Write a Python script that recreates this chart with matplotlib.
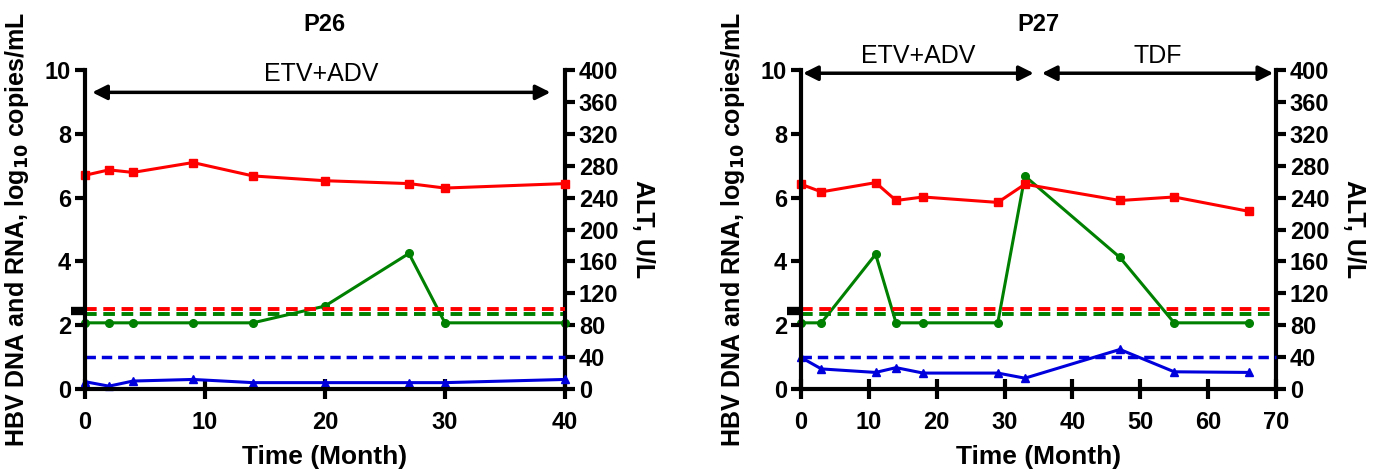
import matplotlib
matplotlib.use("Agg")
import matplotlib.pyplot as plt

plt.rcParams['font.family'] = ['Liberation Sans', 'DejaVu Sans']
plt.rcParams['font.weight'] = 'bold'

# P26
t26 = [0, 2, 4, 9, 14, 20, 27, 30, 40]
rna26 = [6.70, 6.87, 6.79, 7.10, 6.68, 6.53, 6.44, 6.30, 6.44]
dna26 = [0.23, 0.09, 0.25, 0.30, 0.20, 0.20, 0.20, 0.20, 0.30]
alt26 = [83, 83, 83, 83, 83, 104, 170, 83, 83]

# P27
t27 = [0, 3, 11, 14, 18, 29, 33, 47, 55, 66]
rna27 = [6.42, 6.18, 6.47, 5.91, 6.02, 5.85, 6.42, 5.91, 6.02, 5.57]
dna27 = [0.99, 0.63, 0.52, 0.67, 0.50, 0.50, 0.34, 1.24, 0.54, 0.52]
alt27 = [83, 83, 169, 83, 83, 83, 267, 165, 83, 83]

# cut-off lines
rna_cut = 2.5
dna_cut = 1.0
alt_cut = 94

fig = plt.figure(figsize=(13.88, 4.70), dpi=100)

panels = [
    ("P26", t26, rna26, dna26, alt26, 40, [0, 10, 20, 30, 40], [0.0612, 0.1723, 0.3458, 0.6787],
     [(0.6, 38.8, 9.3, "ETV+ADV", 9.5)]),
    ("P27", t27, rna27, dna27, alt27, 70, [0, 10, 20, 30, 40, 50, 60, 70], [0.5771, 0.1723, 0.3422, 0.6787],
     [(0.3, 34.3, 9.9, "ETV+ADV", 10.05), (35.5, 69.6, 9.9, "TDF", 10.05)]),
]

dash = (0, (3, 1.7))

for name, t, rna, dna, alt, xmax, xt, pos, arrows in panels:
    ax = fig.add_axes(pos)
    ax2 = ax.twinx()
    ax.set_zorder(ax2.get_zorder() + 1)
    ax.patch.set_visible(False)

    ax2.axhline(alt_cut, color='green', ls=dash, lw=2.8, clip_on=False)
    ax.axhline(rna_cut, color='red', ls=dash, lw=2.8, clip_on=False)
    ax.axhline(dna_cut, color='#0000dd', ls=dash, lw=2.5, clip_on=False)

    ax.plot(t, rna, color='red', marker='s', ms=5.5, lw=2.2, clip_on=False)
    ax2.plot(t, alt, color='green', marker='o', ms=5.5, lw=2.2, clip_on=False)
    ax.plot(t, dna, color='#0000dd', marker='^', ms=5.5, lw=2.2, clip_on=False)

    ax.set_xlim(0, xmax)
    ax.set_ylim(0, 10)
    ax2.set_ylim(0, 400)
    ax.set_xticks(xt)
    ax.set_yticks([0, 2, 4, 6, 8, 10])
    ax2.set_yticks(range(0, 401, 40))

    for a in (ax, ax2):
        a.spines['top'].set_visible(False)
        for s in a.spines.values():
            s.set_linewidth(3)
    ax.spines['right'].set_visible(False)
    ax2.spines['left'].set_visible(False)
    ax2.spines['bottom'].set_visible(False)

    ax.tick_params(axis='y', direction='out', length=7, width=3, labelsize=17, pad=3)
    ax.tick_params(axis='x', direction='inout', length=14, width=3, labelsize=17, pad=9)
    ax2.tick_params(axis='y', direction='out', length=7, width=3, labelsize=17, pad=3)

    # short black mark on the left spine at the cut-off
    ax.plot([-0.012], [2.45], marker='_', ms=12, mew=6, color='black',
            transform=ax.get_yaxis_transform(), clip_on=False)

    ax.set_xlabel("Time (Month)", fontsize=19, fontweight='bold', labelpad=8)
    ax.set_ylabel("HBV DNA and RNA, log$_{10}$ copies/mL", fontsize=18, fontweight='bold', labelpad=10)
    ax2.set_ylabel("ALT, U/L", fontsize=18, fontweight='bold', rotation=270, labelpad=26)
    ax.set_title(name, fontsize=17, fontweight='bold', pad=28)

    for x0, x1, y, label, ty in arrows:
        ax.annotate("", xy=(x1, y), xytext=(x0, y),
                    arrowprops=dict(arrowstyle='<|-|>', color='black', lw=2.5,
                                    mutation_scale=22, shrinkA=0, shrinkB=0),
                    annotation_clip=False)
        ax.text((x0 + x1) / 2, ty, label, ha='center', va='bottom', fontsize=18,
                fontweight='normal')

fig.savefig("out.png", dpi=100)
